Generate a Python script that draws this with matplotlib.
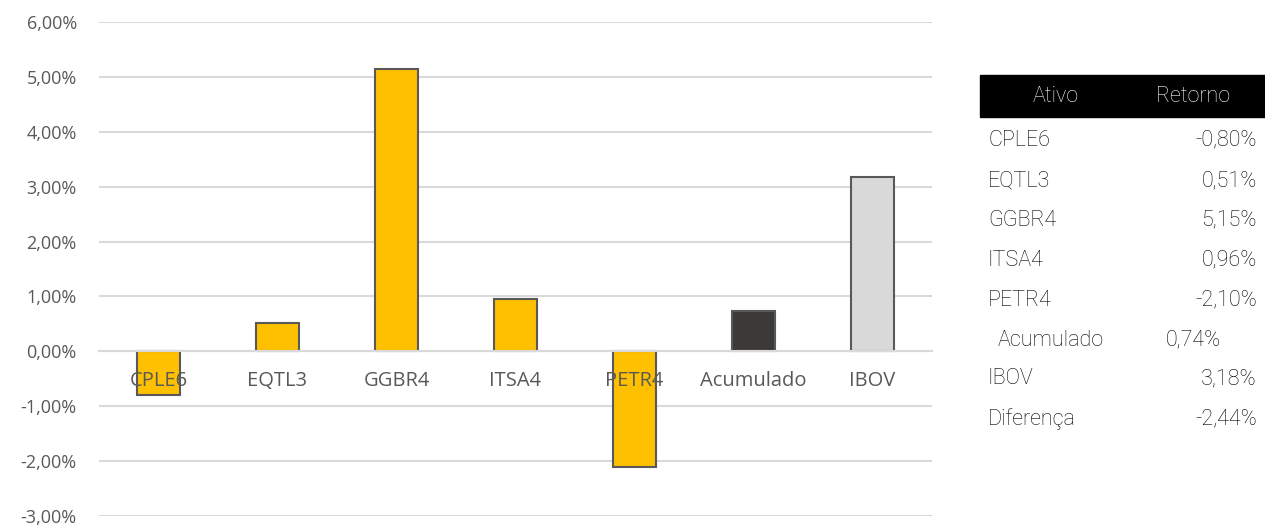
import matplotlib.pyplot as plt
from matplotlib.patches import Rectangle

# Data
categories = ['CPLE6', 'EQTL3', 'GGBR4', 'ITSA4', 'PETR4', 'Acumulado', 'IBOV']
returns = [-0.80, 0.51, 5.15, 0.96, -2.10, 0.74, 3.18]
bar_colors = ['#ffc000', '#ffc000', '#ffc000', '#ffc000', '#ffc000', '#3b3a39', '#d9d9d9']

table_assets = ['CPLE6', 'EQTL3', 'GGBR4', 'ITSA4', 'PETR4', 'Acumulado', 'IBOV', 'Diferença']
table_values = ['-0,80%', '0,51%', '5,15%', '0,96%', '-2,10%', '0,74%', '3,18%', '-2,44%']

yticks = list(range(-3, 7))

fig = plt.figure(figsize=(12.65, 5.31), dpi=100)
ax = fig.add_axes([0.0783, 0.0282, 0.6585, 0.9304])

x = list(range(len(categories)))
ax.bar(x, returns, width=0.36, color=bar_colors, edgecolor='#595959', linewidth=1.5, zorder=3)

ax.set_xlim(-0.5, len(categories) - 0.5)
ax.set_ylim(-3, 6)
ax.set_yticks(yticks)
ax.set_yticklabels(['{:.2f}%'.format(v).replace('.', ',') for v in yticks],
                   fontsize=13, color='#595959', family='Open Sans')
ax.grid(axis='y', color='#d9d9d9', linewidth=1.5, zorder=0)
ax.set_axisbelow(True)

for s in ['top', 'right', 'left']:
    ax.spines[s].set_visible(False)
ax.spines['bottom'].set_position(('data', 0))
ax.spines['bottom'].set_color('#d9d9d9')
ax.spines['bottom'].set_linewidth(1.5)
ax.spines['bottom'].set_zorder(4)
ax.set_xticks(x)
ax.set_xticklabels(categories, fontsize=14.5, color='#595959', family='Open Sans')
ax.tick_params(axis='both', length=0)
ax.tick_params(axis='x', pad=14)
ax.tick_params(axis='y', pad=16)
for lbl in ax.get_xticklabels():
    lbl.set_zorder(5)
ax.xaxis.set_zorder(5)

# Table on the right
fig.patches.append(Rectangle((980 / 1265, 1 - 117 / 531), 285 / 1265, 42 / 531,
                             transform=fig.transFigure, color='black', zorder=1))
tkw = dict(fontsize=15.5, family='Roboto', fontweight='light', va='center')
fig.text(1056 / 1265, 1 - 96 / 531, 'Ativo', color='white', ha='center', **tkw)
fig.text(1193 / 1265, 1 - 96 / 531, 'Retorno', color='white', ha='center', **tkw)
row_y = [140, 181, 220, 260, 300, 340, 379, 419]
for name, val, yy in zip(table_assets, table_values, row_y):
    if name == 'Acumulado':
        fig.text(998 / 1265, 1 - yy / 531, name, color='black', ha='left', **tkw)
        fig.text(1166 / 1265, 1 - yy / 531, val, color='black', ha='left', **tkw)
    else:
        fig.text(988 / 1265, 1 - yy / 531, name, color='black', ha='left', **tkw)
        fig.text(1257 / 1265, 1 - yy / 531, val, color='black', ha='right', **tkw)

plt.savefig('out.png', dpi=100)
